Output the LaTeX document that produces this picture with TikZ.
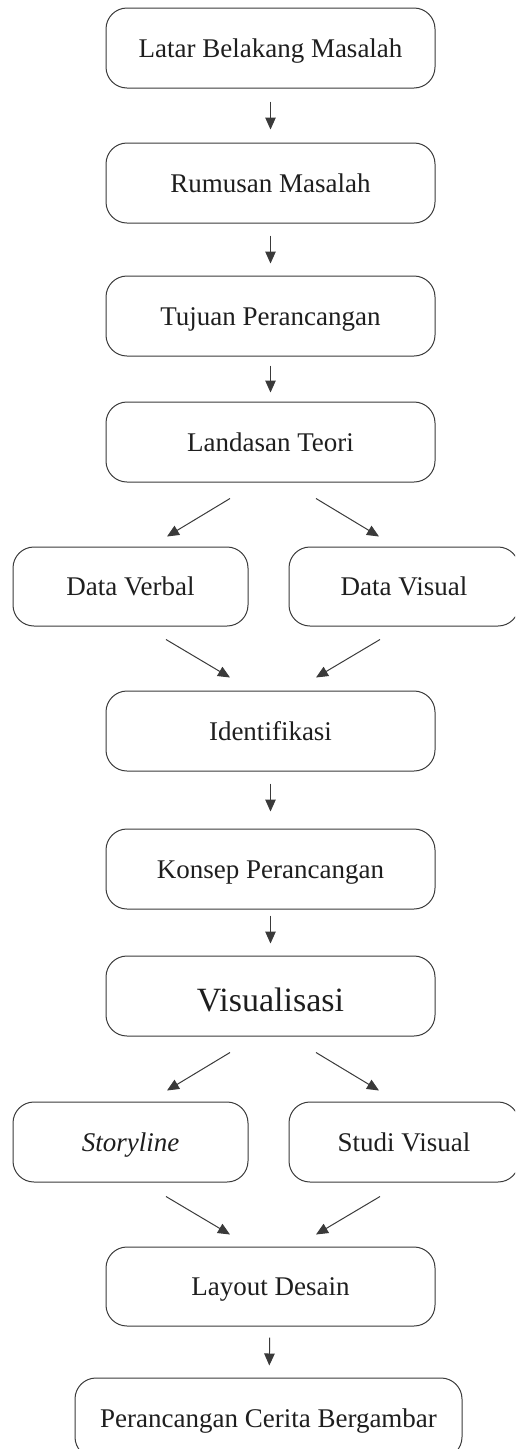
\documentclass[tikz,border=0pt]{standalone}
\usepackage{fontspec}
\setmainfont{Liberation Serif}
\usetikzlibrary{arrows.meta,calc}
\definecolor{ln}{HTML}{3A3A3A}
\definecolor{tx}{HTML}{1E1E1E}
\begin{document}
\begin{tikzpicture}[x=1pt,y=-1pt,
  box/.style={draw=ln, line width=1pt, rounded corners=21pt, minimum height=80pt,
    inner sep=0pt, text=tx, font=\fontsize{27}{32}\selectfont, text height=18pt, text depth=0pt},
  wide/.style={box, minimum width=329pt},
  half/.style={box, minimum width=235pt},
  halfr/.style={box, minimum width=230pt},
  arr/.style={draw=ln, line width=1pt, -{Triangle[length=12pt,width=10.5pt]}}]
\useasboundingbox (0,0) rectangle (515,1449);
\clip (0,0) rectangle (515,1449);
% nodes
\node[wide] (latar) at (270.5,48) {Latar Belakang Masalah};
\node[wide] (rumusan) at (270.5,183) {Rumusan Masalah};
\node[wide] (tujuan) at (270.5,316) {Tujuan Perancangan};
\node[wide] (landasan) at (270.5,442) {Landasan Teori};
\node[half, minimum height=79pt] (verbal) at (130.5,586.5) {Data Verbal};
\node[halfr, minimum height=79pt] (visual) at (404,586.5) {Data Visual};
\node[wide] (ident) at (270.5,731) {Identifikasi};
\node[wide] (konsep) at (270.5,869) {Konsep Perancangan};
\node[wide, font=\fontsize{34}{40}\selectfont, text height=30pt] (visualisasi) at (270.5,996) {Visualisasi};
\node[half] (story) at (130.5,1142) {\textit{Storyline}};
\node[halfr] (studi) at (404,1142) {Studi Visual};
\node[wide, minimum height=79pt] (layout) at (270.5,1286.5) {Layout Desain};
\node[box, minimum width=387pt] (final) at (268.5,1418) {Perancangan Cerita Bergambar};
% vertical arrows
\draw[arr, shorten <=13pt, shorten >=13pt] (latar) -- (rumusan);
\draw[arr, shorten <=12pt, shorten >=12pt] (rumusan) -- (tujuan);
\draw[arr, shorten <=9pt, shorten >=9pt] (tujuan) -- (landasan);
\draw[arr, shorten <=12pt, shorten >=17pt] (ident) -- (konsep);
\draw[arr, shorten <=6pt, shorten >=12pt] (konsep) -- (visualisasi);
\draw[arr, shorten <=11pt, shorten >=12pt] (layout) -- (final);
% diagonal arrows, group 1
\draw[arr] ($(landasan.south)+(-40.5,16)$) -- ($(verbal.north)+(36.5,-10)$);
\draw[arr] ($(landasan.south)+(45.5,16)$) -- ($(visual.north)+(-25,-10)$);
\draw[arr] ($(verbal.south)+(35.5,13)$) -- ($(ident.north)+(-40.5,-13)$);
\draw[arr] ($(visual.south)+(-24,13)$) -- ($(ident.north)+(45.5,-13)$);
% diagonal arrows, group 2
\draw[arr] ($(visualisasi.south)+(-40.5,16)$) -- ($(story.north)+(36.5,-11)$);
\draw[arr] ($(visualisasi.south)+(45.5,16)$) -- ($(studi.north)+(-25,-11)$);
\draw[arr] ($(story.south)+(35.5,14)$) -- ($(layout.north)+(-40.5,-12)$);
\draw[arr] ($(studi.south)+(-24,14)$) -- ($(layout.north)+(45.5,-12)$);
\end{tikzpicture}
\end{document}
